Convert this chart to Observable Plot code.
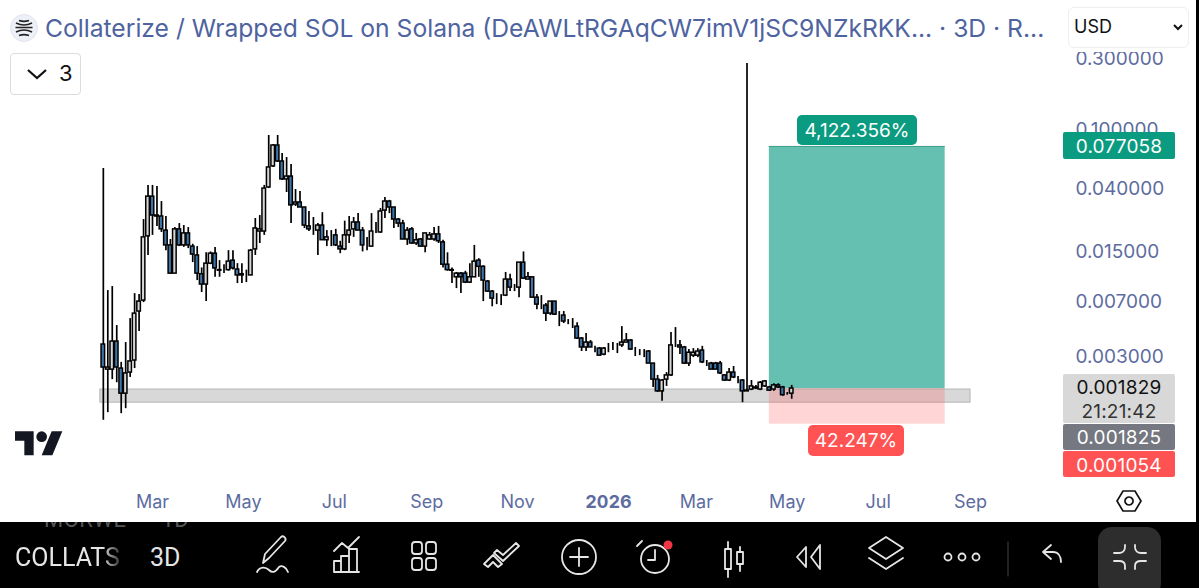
<!DOCTYPE html>
<html><head><meta charset="utf-8">
<script src="https://cdn.jsdelivr.net/npm/d3@7"></script>
<script src="https://cdn.jsdelivr.net/npm/@observablehq/plot@0.6"></script>
<style>
html,body{margin:0;padding:0;background:#fff}
#page{position:relative;width:1199px;height:588px;overflow:hidden;background:#fff;font-family:Inter,"Open Sans",sans-serif}
#chart{position:absolute;left:0;top:0}
#chart svg{display:block}
.abs{position:absolute;white-space:nowrap}
.badge{position:absolute;text-align:center;box-sizing:border-box;border-radius:2px;font-size:19px;letter-spacing:.2px}
</style></head><body>
<div id="page">
<div id="chart"></div>
<div class="abs" style="left:1060px;top:0;width:139px;height:52px;background:#fff"></div>
<svg class="abs" style="left:10px;top:14px" width="28" height="28" viewBox="0 0 28 28">
 <circle cx="14" cy="14" r="13.5" fill="#eef0f8" stroke="#e2e4ee"/>
 <path d="M6 9c5 2.5 11 2.5 16 0M5.5 13.5h17M6 18c5-2.5 11-2.5 16 0M9 6.5c3 1 7 1 10 0M9 21.500c3-1 7-1 10 0" stroke="#222" stroke-width="1.700" fill="none"/>
</svg>
<div class="abs" id="title" style="left:45px;top:12px;font-size:24.650px;line-height:32px;color:#4e639f">Collaterize / Wrapped SOL on Solana (DeAWLtRGAqCW7imV1jSC9NZkRKK... · 3D · R...</div>
<div class="abs" style="left:10px;top:53px;width:69px;height:40px;border:1px solid #dcdcdc;border-radius:4px;background:#fff"></div>
<svg class="abs" style="left:26px;top:68px" width="22" height="12"><path d="M2 2l9 8 9-8" stroke="#111" stroke-width="2.200" fill="none"/></svg>
<div class="abs" style="left:59px;top:58px;font-size:22px;line-height:30px;color:#111">3</div>
<div class="abs" style="left:1068px;top:7px;width:119px;height:39px;border:1px solid #eee;border-radius:6px;background:#fff"></div>
<div class="abs" style="left:1074px;top:14px;font-size:18px;line-height:26px;color:#111">USD</div>
<svg class="abs" style="left:1172px;top:23px" width="12" height="9"><path d="M2 2l4 4 4-4" stroke="#111" stroke-width="2" fill="none"/></svg>
<div class="abs" style="right:0;top:0;width:3px;height:522px;background:#000"></div>
<svg class="abs" style="left:15px;top:426px" width="48" height="32" viewBox="0 0 36 24"><path d="M14 22H7V11H0V4h14v18zM28 22h-8l7.500-18h8L28 22z" fill="#131722"/><circle cx="20" cy="8" r="4" fill="#131722"/></svg>
<div class="abs" style="left:797px;top:115px;width:120px;height:30px;line-height:31px;background:#0a9b80;color:#fff;border-radius:5px;text-align:center;font-size:19px">4,122.356%</div>
<div class="abs" style="left:808px;top:425px;width:96px;height:31px;line-height:32px;background:#ff5252;color:#fff;border-radius:5px;text-align:center;font-size:19px">42.247%</div>
<div class="badge" style="left:1063px;top:132px;width:112px;height:27px;line-height:29px;background:#0a9b80;color:#fff">0.077058</div>
<div class="badge" style="left:1063px;top:374px;width:112px;height:49px;line-height:24px;padding-top:2px;background:#d8d8d8;color:#111">0.001829<br><span style="color:#333">21:21:42</span></div>
<div class="badge" style="left:1063px;top:424px;width:112px;height:26px;line-height:28px;background:#757781;color:#fff">0.001825</div>
<div class="badge" style="left:1063px;top:451px;width:112px;height:26px;line-height:29px;background:#ff5252;color:#fff">0.001054</div>
<svg class="abs" style="left:1116px;top:489px" width="26" height="24" viewBox="0 0 26 24"><path d="M7 2h12l6 10-6 10H7L1 12z M13 8a4 4 0 1 0 .01 0" fill="none" stroke="#111" stroke-width="1.700"/></svg>
<div class="abs" id="bar" style="left:0;top:522px;width:1199px;height:66px;background:#000;overflow:hidden;color:#e6e6e6">
 <div class="abs" style="left:44px;top:-15px;font-size:22px;line-height:26px;color:#555;font-family:Roboto,sans-serif;letter-spacing:.5px">MORWE<span style="margin-left:35px">1D</span></div>
 <div class="abs" style="left:15px;top:20px;width:112px;overflow:hidden;font-size:25px;line-height:32px;font-family:Roboto,sans-serif;-webkit-mask-image:linear-gradient(90deg,#000 78%,transparent 98%)">COLLATS</div>
 <div class="abs" style="left:150px;top:20px;font-size:25px;line-height:32px;font-family:Roboto,sans-serif">3D</div>
 <div class="abs" style="left:16px;top:62px;font-size:22px;line-height:26px;color:#555;font-family:Roboto,sans-serif">ETHUSD<span style="margin-left:35px">1</span></div>
 <svg class="abs" style="left:0;top:0" width="1199" height="66" fill="none" stroke="#e6e6e6" stroke-width="1.800" stroke-linecap="round" stroke-linejoin="round">
  <path d="M263 41l2-9 16-17c2-2 6 1 4 4l-16 17z M257 50c3-6 9-5 12-2s6 3 10-3c3-2 7 0 9 5"/>
  <path d="M334 29l8-8 6 5 11-11 M334 50V39h7v11z M341 50V34h8v16z M349 50V27h8v23z M334 50h25"/>
  <rect x="412" y="20" width="10" height="12" rx="3"/><rect x="426" y="20" width="10" height="12" rx="3"/><rect x="412" y="36" width="10" height="12" rx="3"/><rect x="426" y="36" width="10" height="12" rx="3"/>
  <path d="M484 42l9-9 9 9-4 3-5-5-5 5z M497 28l6 5 13-12 3 3-16 15-9-8z"/>
  <circle cx="579" cy="35" r="17"/><path d="M579 26v18M570 35h18"/>
  <circle cx="655" cy="37" r="14"/><path d="M655 28v10h-7M642 19l-5 5"/>
  <path d="M725 27h6v20h-6z M728 20v7M728 47v8 M737 30h6v12h-6z M740 25v5M740 42v7"/>
  <path d="M806 25l-9 10 9 10z M820 23l-9 12 9 12z"/>
  <path d="M886 15l17 11-17 11-17-11z M869 36l17 11 17-11"/>
  <circle cx="948" cy="35" r="3.500"/><circle cx="962" cy="35" r="3.500"/><circle cx="976" cy="35" r="3.500"/>
  <path d="M1008 20v34" stroke="#444" stroke-width="1"/>
  <path d="M1051 23l-8 7 8 7M1043 30h10c5 0 8 4 8 10"/>
  <rect x="1098" y="5" width="63" height="70" rx="14" fill="#2d2d2d" stroke="none"/>
  <path d="M1125 23v2c0 4-3 6-6 6h-5 M1135 23v2c0 4 3 6 6 6h5 M1125 47v-3c0-4-3-5-6-5h-5 M1135 47v-3c0-4 3-5 6-5h5"/>
  <circle cx="668" cy="23" r="4.500" fill="#f23645" stroke="none"/>
 </svg>
</div>
</div>
<script>
const opens=[.00361,.00245,.00245,.00378,.00249,.00169,.00234,.00282,.00601,.00712,
.0192,.0355,.0261,.0261,.0210,.0167,.0108,.0214,.0167,.0201,
.0164,.0143,.0107,.00912,.0126,.0147,.0114,.0112,.0114,.0132,
.0115,.0107,.0105,.0105,.0157,.0207,.0207,.0409,.0566,.0782,
.0611,.0463,.0484,.0314,.0324,.0300,.0224,.0210,.0210,.0227,
.0181,.0195,.0195,.0164,.0157,.0195,.0214,.0238,.0210,.0164,
.0164,.0207,.0204,.0286,.0329,.0300,.0249,.0234,.0183,.0214,
.0172,.0183,.0164,.0183,.0183,.0198,.0175,.0124,.0114,.0102,
.0108,.0108,.0094,.0102,.0132,.0120,.00955,.00818,.00745,.00745,
.00769,.00985,.0087,.0087,.0128,.00985,.0102,.00745,.00669,.00659,
.00582,.00701,.00565,.00565,.00515,.00499,.00476,.00396,.00345,.00372,
.00339,.00339,.00309,.00351,.00351,.00351,.00356,.00372,.00384,.00324,
.00318,.00324,.00324,.00269,.00210,.00175,.00210,.00224,.00356,.00356,
.00345,.00269,.00304,.00304,.00329,.00269,.00269,.00269,.00269,.00224,
.00207,.00234,.00210,.00207,.00175,.00180,.00183,.00180,.00189,.00186,
.00180,.00192,.00186,.00169,.00169];
const highs=[.0548,.00831,.00884,.00484,.00274,.00372,.00539,.00793,.00781,.0249,
.0422,.0422,.0415,.0329,.0261,.0183,.0220,.0234,.0227,.0220,
.0170,.0164,.0118,.0149,.0151,.0162,.0132,.0124,.0154,.0154,
.0126,.0126,.0114,.0157,.0253,.0265,.0422,.0913,.0794,.0913,
.0691,.0649,.0583,.0396,.0384,.0300,.0282,.0257,.0234,.0277,
.0210,.0210,.0214,.0178,.0243,.0261,.0257,.0273,.0220,.0189,
.0273,.0238,.0295,.0350,.0335,.0300,.0253,.0246,.0220,.0220,
.0201,.0186,.0201,.0204,.0220,.0224,.0181,.0149,.0118,.0110,
.0110,.0112,.0126,.0167,.0136,.0122,.0097,.00831,.00793,.00781,
.0110,.0107,.00912,.0128,.0151,.0110,.0102,.00781,.00769,.00680,
.00701,.00701,.00601,.00601,.00531,.00539,.00506,.00402,.00428,.00384,
.00351,.00345,.00345,.00367,.00372,.00367,.00476,.00428,.00390,.00345,
.00334,.00334,.00329,.00269,.00224,.00210,.00234,.00434,.00469,.00384,
.00351,.00334,.00339,.00339,.00351,.00282,.00274,.00274,.00278,.00227,
.00249,.00257,.00220,.00210,.2777,.00207,.00192,.00204,.00207,.00189,
.00197,.00197,.00189,.00172,.00192];
const lows=[.00112,.00126,.00210,.00200,.00124,.00134,.00217,.00249,.00441,.00690,
.0143,.0195,.0224,.0204,.0154,.0107,.0108,.0164,.0162,.0159,
.0128,.0097,.00806,.00701,.0124,.0102,.0102,.0108,.0112,.0114,
.00926,.00926,.0094,.0105,.0143,.0172,.0195,.0402,.0557,.0602,
.0456,.0378,.0234,.0305,.0300,.0217,.0207,.0195,.0143,.0181,
.0164,.0164,.0164,.0147,.0154,.0172,.0189,.0210,.0151,.0154,
.0162,.0201,.0201,.0253,.0273,.0217,.0220,.0183,.0167,.0170,
.0167,.0162,.0149,.0181,.0178,.0172,.0118,.0112,.00926,.00857,
.00793,.00926,.00926,.0102,.0102,.00701,.00806,.00647,.00669,.00659,
.00757,.00818,.00818,.00745,.00985,.00985,.00745,.00619,.00619,.00515,
.00565,.00565,.00476,.00499,.00491,.00462,.00390,.00324,.00324,.00345,
.00318,.00304,.00304,.00318,.00329,.00314,.00345,.00372,.00329,.00300,
.00304,.00295,.00269,.00186,.00172,.00150,.00189,.00220,.00345,.00309,
.00265,.00257,.00295,.00295,.00269,.00257,.00245,.00245,.00227,.00204,
.00204,.00213,.00197,.00147,.00175,.00177,.00180,.00177,.00186,.00175,
.00175,.00183,.00162,.00165,.00155];
const closes=[.00253,.00253,.00378,.00253,.00169,.00231,.00278,.00582,.00701,.0189,
.0355,.0265,.0265,.0214,.0167,.0108,.0214,.0167,.0201,.0167,
.0145,.0108,.00912,.0126,.0147,.0117,.0113,.0112,.0130,.0117,
.0105,.0105,.0105,.0154,.0217,.0214,.0402,.0557,.0782,.0611,
.0463,.0484,.0310,.0324,.0300,.0227,.0214,.0210,.0227,.0181,
.0189,.0195,.0167,.0157,.0195,.0210,.0238,.0210,.0167,.0164,
.0207,.0207,.0282,.0329,.0300,.0249,.0234,.0183,.0210,.0172,
.0181,.0164,.0201,.0195,.0198,.0178,.0124,.0114,.0113,.0108,
.0102,.0094,.0102,.0130,.0120,.0097,.00818,.00734,.00745,.00745,
.00985,.0087,.0087,.0128,.0100,.0102,.00745,.00669,.00669,.00582,
.00701,.00573,.00565,.00515,.00515,.00499,.00396,.00345,.00372,.00345,
.00339,.00304,.00339,.00351,.00351,.00351,.00372,.00384,.00334,.00324,
.00318,.00324,.00269,.00210,.00175,.00207,.00224,.00356,.00356,.00345,
.00269,.00318,.00318,.00324,.00274,.00269,.00245,.00245,.00231,.00207,
.00234,.00217,.00210,.00175,.00177,.00189,.00186,.00200,.00204,.00177,
.00192,.00186,.00165,.00169,.001829];
const firstCandle=new Date(Date.UTC(2025,0,27));
const candleDays=3;
const priceTicks=[0.3,0.1,0.04,0.015,0.007,0.003];
const monthTicks=["2025-03-01","2025-05-01","2025-07-01","2025-09-01","2025-11-01","2026-03-01","2026-05-01","2026-07-01","2026-09-01"].map(d=>new Date(d));
const yearTicks=[new Date("2026-01-01")];
const entry=0.001825, target=0.077058, stop=0.001054;
const posStart=new Date("2026-04-19"), posEnd=new Date("2026-08-15");
const zoneTop=0.0018, zoneBottom=0.00147;
const zoneStart=new Date("2025-01-25"), zoneEnd=new Date("2026-09-01");

const day=864e5;
const candles=opens.map((o,i)=>{
  const date=+firstCandle+i*candleDays*day;
  return {date:new Date(date),left:new Date(date-1.2*day),right:new Date(date+1.2*day),o,h:highs[i],l:lows[i],c:closes[i]};
});
const labelColor="#5d6c9f";
const fontF='Inter,"Open Sans",sans-serif';
const chart=Plot.plot({
  width:1199,height:522,marginTop:0,marginLeft:0,marginRight:123,marginBottom:35,
  style:{background:"transparent",fontFamily:fontF,overflow:"visible"},
  x:{type:"utc",domain:[new Date("2025-03-01"),new Date("2026-09-01")],range:[152,970]},
  y:{type:"log",domain:[0.3,0.001],range:[58,427.1],axis:null},
  marks:[
    Plot.rect([0],{x1:zoneStart,x2:zoneEnd,y1:zoneTop,y2:zoneBottom,fill:"#d8d8d8",stroke:"#bdbdbd",strokeWidth:1.2}),
    Plot.rect([0],{x1:posStart,x2:posEnd,y1:entry,y2:target,fill:"#089981",fillOpacity:0.62}),
    Plot.ruleY([target],{x1:posStart,x2:posEnd,stroke:"#3f9f8c",strokeWidth:1}),
    Plot.rect([0],{x1:posStart,x2:posEnd,y1:stop,y2:entry,fill:"#ff5050",fillOpacity:0.24}),
    Plot.ruleX(candles,{x:"date",y1:"l",y2:"h",stroke:"#000",strokeWidth:1.7}),
    Plot.rect(candles,{x1:"left",x2:"right",y1:"o",y2:"c",fill:d=>d.c>=d.o?"#d6d6d6":"#3f74a8",stroke:"#000",strokeWidth:1.5}),
    Plot.text(priceTicks,{y:d=>d,text:d3.format(".6f"),frameAnchor:"right",textAnchor:"start",dx:-1,fill:labelColor,fontSize:19}),
    Plot.axisX({ticks:monthTicks,tickFormat:d3.utcFormat("%b"),tickSize:0,tickPadding:8,fill:labelColor,fontSize:18,label:null}),
    Plot.axisX({ticks:yearTicks,tickFormat:d3.utcFormat("%Y"),tickSize:0,tickPadding:8,fill:labelColor,fontSize:18,fontWeight:"bold",label:null})
  ]
});
document.getElementById("chart").append(chart);
</script>
</body></html>
